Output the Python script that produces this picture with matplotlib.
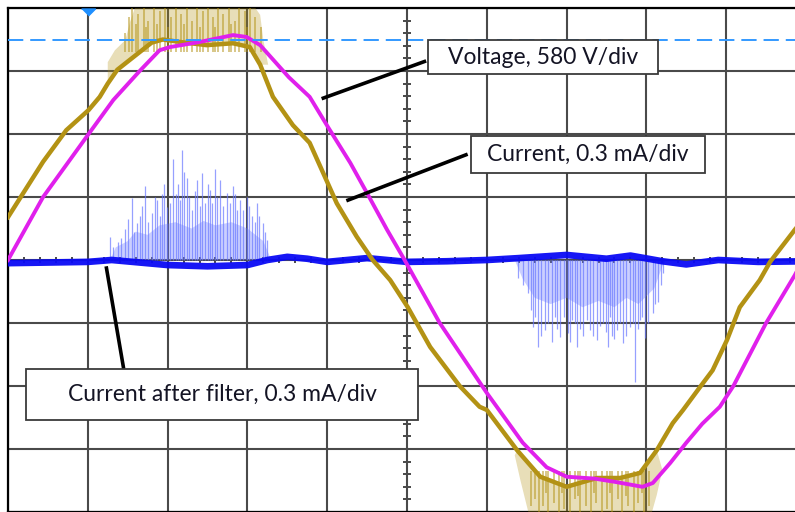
import numpy as np
import matplotlib.pyplot as plt
from matplotlib.patches import Rectangle

# all values in scope divisions: x 0..10 (time), y -4..4 (centre = 0)
volt_x = [0.0, 0.44, 1.01, 1.32, 1.65, 1.9, 2.03, 2.4, 2.82, 2.99, 3.16, 3.52,
          3.78, 4.01, 4.29, 4.5, 4.75, 4.97, 5.41, 6.0, 6.45, 6.75, 7.0, 7.35,
          7.6, 7.95, 8.08, 8.3, 8.5, 8.7, 8.92, 9.09, 9.5, 9.86, 10.0]
volt_y = [0.0, 1.0, 2.0, 2.54, 3.0, 3.33, 3.38, 3.46, 3.57, 3.54, 3.41, 2.9,
          2.59, 2.11, 1.54, 1.06, 0.48, 0.0, -1.0, -2.11, -2.9, -3.29, -3.44, -3.47,
          -3.52, -3.6, -3.54, -3.22, -2.9, -2.6, -2.33, -2.0, -1.0, -0.24, 0.1]

cur_x = [0.0, 0.44, 0.73, 1.01, 1.15, 1.25, 1.37, 1.65, 1.8, 1.94, 2.16, 2.49, 2.82, 3.03,
         3.16, 3.32, 3.57, 3.78, 3.95, 4.12, 4.37, 4.57, 4.79, 5.01, 5.29, 5.66,
         5.91, 6.0, 6.38, 6.67, 7.0, 7.38, 7.67, 7.92, 8.13, 8.33, 8.46, 8.67,
         8.83, 9.01, 9.17, 9.42, 9.55, 9.86, 10.0]
cur_y = [0.68, 1.56, 2.06, 2.38, 2.59, 2.8, 3.02, 3.3, 3.45, 3.5, 3.46, 3.41, 3.44, 3.38,
         3.1, 2.59, 2.14, 1.86, 1.38, 0.9, 0.37, 0.0, -0.32, -0.75, -1.38, -2.0,
         -2.33, -2.38, -3.02, -3.44, -3.6, -3.46, -3.46, -3.38, -3.02, -2.59, -2.38, -2.02,
         -1.75, -1.27, -0.75, -0.32, -0.03, 0.48, 0.7]

# noise fuzz on the current trace (upper envelope at the peak, lower at the trough)
fuzz_top_x = [1.25, 1.34, 1.47, 1.53, 1.59, 3.1, 3.16, 3.2, 3.26]
fuzz_top_y = [3.14, 3.33, 3.49, 3.78, 4.0, 4.0, 3.89, 3.49, 3.1]
fuzz_bot_x = [6.35, 6.42, 6.52, 8.07, 8.13, 8.2]
fuzz_bot_y = [-3.1, -3.49, -4.0, -4.0, -3.73, -3.33]
# individual streaks inside the fuzz
streak_top_x = [1.47, 1.52, 1.56, 1.6, 1.63, 1.7, 1.73, 1.76, 1.83, 1.87, 1.9, 1.97,
                2.01, 2.04, 2.1, 2.17, 2.2, 2.24, 2.3, 2.37, 2.4, 2.44, 2.5, 2.57,
                2.6, 2.63, 2.7, 2.77, 2.8, 2.84, 2.9, 2.97, 3.0, 3.03, 3.1, 3.17]
streak_top_y = [3.6, 3.85, 4.0, 3.75, 3.9, 4.0, 3.7, 3.8, 4.0, 3.75, 3.95, 4.0,
                3.7, 3.85, 4.0, 3.9, 3.75, 4.0, 3.8, 4.0, 3.7, 3.95, 4.0, 3.85,
                3.7, 4.0, 3.9, 4.0, 3.75, 3.8, 4.0, 3.95, 3.7, 4.0, 3.85, 3.7]
streak_bot_x = [6.55, 6.6, 6.65, 6.7, 6.74, 6.77, 6.84, 6.9, 6.94, 6.97, 7.04, 7.1,
                7.14, 7.17, 7.24, 7.3, 7.34, 7.37, 7.44, 7.5, 7.54, 7.57, 7.64, 7.7,
                7.74, 7.77, 7.84, 7.9, 7.94, 7.97, 8.03]
streak_bot_y = [-3.9, -3.8, -4.0, -3.9, -3.7, -4.0, -3.85, -4.0, -3.7, -3.95, -4.0, -3.8,
                -3.75, -4.0, -3.9, -4.0, -3.7, -3.85, -4.0, -3.95, -3.7, -4.0, -3.8, -4.0,
                -3.75, -3.9, -4.0, -3.85, -3.7, -4.0, -3.9]

filt_x = [0.0, 1.0, 1.3, 2.0, 2.5, 3.0, 3.25, 3.5, 3.75, 4.0, 4.5, 5.0, 5.5, 6.0, 6.4,
          7.0, 7.5, 7.8, 8.2, 8.5, 8.9, 9.4, 10.0]
filt_y = [-0.05, -0.03, 0.0, -0.08, -0.1, -0.08, 0.0, 0.05, 0.02, -0.03, 0.03, -0.03,
          -0.02, 0.0, 0.03, 0.08, 0.02, 0.07, -0.02, -0.07, 0.0, -0.03, -0.02]

# spikes on the filtered current
spk1_x = [1.28, 1.31, 1.38, 1.42, 1.47, 1.5, 1.55, 1.58, 1.62, 1.65, 1.68, 1.72,
          1.76, 1.80, 1.84, 1.87, 1.9, 1.93, 1.96, 1.99, 2.03, 2.07, 2.1, 2.13,
          2.16, 2.18, 2.21, 2.24, 2.27, 2.31, 2.34, 2.37, 2.4, 2.43, 2.47, 2.5,
          2.53, 2.56, 2.59, 2.62, 2.66, 2.7, 2.74, 2.78, 2.82, 2.85, 2.87, 2.91,
          2.95, 2.99, 3.02, 3.06, 3.09, 3.12, 3.15, 3.2, 3.22, 3.25]
spk1_y = [0.37, 0.2, 0.29, 0.35, 0.5, 0.65, 0.98, 0.45, 0.59, 0.7, 0.85, 1.17,
          0.6, 0.75, 1.0, 0.95, 0.7, 1.05, 1.2, 0.84, 0.9, 1.6, 1.05, 1.2,
          0.95, 1.75, 1.4, 1.3, 1.0, 0.79, 1.1, 1.27, 0.85, 1.38, 0.9, 1.2,
          1.11, 0.9, 1.45, 1.0, 1.27, 0.85, 1.06, 0.9, 1.17, 1.05, 0.8, 0.95,
          0.8, 1.0, 0.85, 0.7, 0.6, 0.9, 0.7, 0.59, 0.45, 0.32]
band1_x = [1.28, 1.35, 1.5, 1.6, 1.75, 1.9, 2.1, 2.3, 2.45, 2.6, 2.8, 3.0, 3.2, 3.3]
band1_y = [0.0, 0.2, 0.3, 0.45, 0.4, 0.55, 0.6, 0.5, 0.62, 0.55, 0.6, 0.5, 0.3, 0.0]

spk2_x = [6.39, 6.45, 6.52, 6.55, 6.58, 6.61, 6.64, 6.68, 6.73, 6.77, 6.82, 6.85,
          6.88, 6.92, 6.97, 7.02, 7.04, 7.07, 7.1, 7.13, 7.17, 7.21, 7.25, 7.29,
          7.33, 7.38, 7.42, 7.46, 7.49, 7.52, 7.55, 7.57, 7.6, 7.63, 7.67, 7.71,
          7.75, 7.79, 7.83, 7.86, 7.89, 7.92, 7.95, 7.98, 8.02, 8.08, 8.11, 8.15,
          8.18, 8.21]
spk2_y = [-0.29, -0.4, -0.52, -0.8, -1.06, -0.9, -1.38, -1.2, -1.11, -1.0, -1.3, -0.9,
          -1.1, -1.22, -0.9, -1.16, -1.3, -0.95, -1.0, -1.38, -1.1, -1.2, -0.95, -1.11,
          -1.2, -1.27, -1.05, -1.0, -1.15, -1.38, -0.9, -1.2, -1.25, -1.11, -1.0, -1.32,
          -1.2, -1.06, -1.0, -1.94, -1.1, -0.95, -0.9, -1.24, -1.0, -0.84, -0.7, -0.67,
          -0.4, -0.2]
band2_x = [6.35, 6.45, 6.6, 6.8, 7.0, 7.2, 7.4, 7.6, 7.75, 7.9, 8.1, 8.2, 8.25]
band2_y = [0.0, -0.3, -0.6, -0.7, -0.6, -0.75, -0.65, -0.75, -0.6, -0.7, -0.45, -0.1, 0.0]

trig_level = 3.49
trig_pos = 1.0

labels = ["Voltage, 580 V/div", "Current, 0.3 mA/div", "Current after filter, 0.3 mA/div"]

GOLD = "#B39214"
MAGENTA = "#E020EC"
BLUE = "#0A0AF5"
LBLUE = "#6A78FF"


def fuzz_polygon(ex, ey, tx, ty):
    # envelope forward, then the trace points inside that span backwards
    sub = [(a, b) for a, b in zip(tx, ty) if ex[0] <= a <= ex[-1]]
    px = list(ex) + [a for a, _ in sub[::-1]]
    py = list(ey) + [b for _, b in sub[::-1]]
    return px, py


def main():
    plt.rcParams["lines.scale_dashes"] = False
    fig = plt.figure(figsize=(7.95, 5.12), dpi=100)
    ax = fig.add_axes([8 / 795, 0, 798 / 795, 504 / 512])
    ax.set_xlim(0, 10)
    ax.set_ylim(-4, 4)

    # graticule
    ax.set_xticks(range(11))
    ax.set_yticks(range(-4, 5))
    ax.grid(True, color="#4a4a4a", linewidth=1.5)
    ax.tick_params(length=0, labelbottom=False, labelleft=False)
    for s in ax.spines.values():
        s.set_color("black")
        s.set_linewidth(1.6)
    ax.plot(np.full(41, 5.0), np.linspace(-4, 4, 41), "_", color="#3a3a3a", ms=6, mew=1.3, zorder=1)
    ax.plot(np.linspace(0, 10, 51), np.zeros(51), "|", color="#3a3a3a", ms=5, mew=1.3, zorder=1)

    # filtered current: spikes, band, trace
    ax.vlines(spk1_x, 0, spk1_y, color=LBLUE, lw=0.9, alpha=0.7, zorder=2)
    ax.vlines(spk2_x, 0, spk2_y, color=LBLUE, lw=0.9, alpha=0.7, zorder=2)
    ax.fill(band1_x, band1_y, color=LBLUE, alpha=0.35, lw=0, zorder=2)
    ax.fill(band2_x, band2_y, color=LBLUE, alpha=0.35, lw=0, zorder=2)
    ax.plot(filt_x, filt_y, color=BLUE, lw=4.8, alpha=0.95, zorder=3)

    # current with noise fuzz
    px, py = fuzz_polygon(fuzz_top_x, fuzz_top_y, cur_x, cur_y)
    ax.fill(px, py, color=GOLD, alpha=0.3, lw=0, zorder=4)
    px, py = fuzz_polygon(fuzz_bot_x, fuzz_bot_y, cur_x, cur_y)
    ax.fill(px, py, color=GOLD, alpha=0.3, lw=0, zorder=4)
    ax.vlines(streak_top_x, 3.3, streak_top_y, color=GOLD, lw=1.3, alpha=0.55, zorder=4)
    ax.vlines(streak_bot_x, -3.35, streak_bot_y, color=GOLD, lw=1.3, alpha=0.55, zorder=4)
    ax.plot(cur_x, cur_y, color=GOLD, lw=3.2, zorder=5)

    # voltage
    ax.plot(volt_x, volt_y, color=MAGENTA, lw=2.8, zorder=6)

    # trigger level and position
    ax.axhline(trig_level, color="#3399FF", lw=1.4, dashes=(11, 5), zorder=7)
    ax.plot(trig_pos, 4 - 3.5 / 63, marker=[(-1, 0.5), (1, 0.5), (0, -0.5)],
            ms=10, color="#1E8FFF", clip_on=False, zorder=8)

    # annotations
    leaders = [((3.93, 2.56), (5.24, 3.16)),
               ((4.24, 0.94), (5.76, 1.68)),
               ((1.23, -0.1), (1.45, -1.73))]
    boxes = [(5.26, 2.95, 2.885, 0.54), (5.80, 1.38, 2.93, 0.59), (0.226, -2.54, 4.91, 0.81)]
    for (p0, p1), (bx, by, bw, bh), lab in zip(leaders, boxes, labels):
        ax.plot([p0[0], p1[0]], [p0[1], p1[1]], color="black", lw=2.6,
                solid_capstyle="butt", zorder=9)
        ax.add_patch(Rectangle((bx, by), bw, bh, facecolor="white",
                               edgecolor="#3a3a3a", lw=1.3, zorder=10))
        ax.text(bx + bw / 2, by + bh / 2, lab, ha="center", va="center",
                fontsize=16.5, family="Lato", color="#141424", zorder=11)

    fig.savefig("out.png", dpi=100)


if __name__ == "__main__":
    main()
